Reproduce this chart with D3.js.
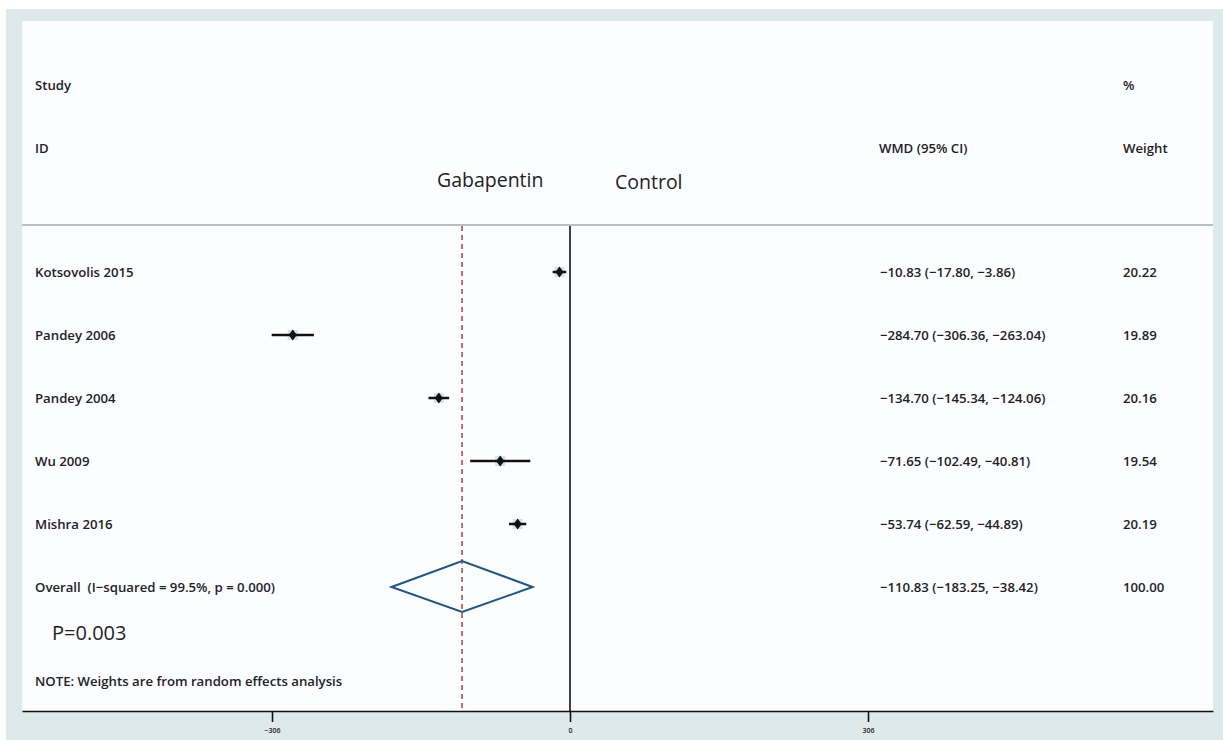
<!DOCTYPE html>
<html><head><meta charset="utf-8">
<script src="https://cdn.jsdelivr.net/npm/d3@7"></script>
<style>
html,body{margin:0;padding:0;background:#fff;}
text{font-family:"Open Sans","Noto Sans",sans-serif;fill:#1e2226;}
</style></head>
<body><svg id="c" width="1223" height="740"></svg>
<script>
const studies = ["Kotsovolis 2015","Pandey 2006","Pandey 2004","Wu 2009","Mishra 2016"];
const estimates = [-10.83,-284.70,-134.70,-71.65,-53.74];
const lowerCI = [-17.80,-306.36,-145.34,-102.49,-62.59];
const upperCI = [-3.86,-263.04,-124.06,-40.81,-44.89];
const weights = ["20.22","19.89","20.16","19.54","20.19"];
const overall = {label:"Overall  (I\u2212squared = 99.5%, p = 0.000)", est:-110.83, lo:-183.25, hi:-38.42, weight:"100.00"};
const tickValues = [-306,0,306];

const FS = "13.2px";
const svg = d3.select("#c");
// background
svg.append("rect").attr("x",6).attr("y",9).attr("width",1217).attr("height",731).attr("fill","#dde9ea");
svg.append("rect").attr("x",22).attr("y",21).attr("width",1191).attr("height",690).attr("fill","#fcfdfe");

const x0 = d3.scaleLinear().domain([-306,306]).range([272,868]);
const x = d3.scaleLinear().domain([x0.invert(22), x0.invert(1213)]).range([22,1213]);

const rows = studies.map((s,i)=>i);
const y = d3.scalePoint().domain(d3.range(6)).range([272,587]);

const fmt = v => d3.format(".2f")(v).replace("-","\u2212");

// header
const hdr = svg.append("g").style("font-weight",600).style("font-size",FS);
hdr.append("text").attr("x",35).attr("y",90).text("Study");
hdr.append("text").attr("x",35).attr("y",153).text("ID");
hdr.append("text").attr("x",1123).attr("y",90).text("%");
hdr.append("text").attr("x",879).attr("y",153).text("WMD (95% CI)");
hdr.append("text").attr("x",1123).attr("y",153).text("Weight");
svg.append("text").attr("x",437).attr("y",187).style("font-size","19.5px").style("font-weight",500).text("Gabapentin");
svg.append("text").attr("x",615).attr("y",189).style("font-size","19.5px").style("font-weight",500).text("Control");

// header separator
svg.append("line").attr("x1",22).attr("x2",1213).attr("y1",225).attr("y2",225).attr("stroke","#a3abae").attr("stroke-width",1.5);

// null line and overall line
svg.append("line").attr("x1",x(0)).attr("x2",x(0)).attr("y1",226).attr("y2",711).attr("stroke","#111").attr("stroke-width",1.6);
svg.append("line").attr("x1",x(overall.est)).attr("x2",x(overall.est)).attr("y1",226).attr("y2",711)
  .attr("stroke","#a5524f").attr("stroke-width",1.6).attr("stroke-dasharray","5,4");

// study rows
const g = svg.append("g");
rows.forEach(i=>{
  const yy = y(i);
  g.append("text").attr("x",35).attr("y",yy+5).style("font-weight",600).style("font-size",FS).text(studies[i]);
  g.append("text").attr("x",880).attr("y",yy+5).style("font-weight",600).style("font-size",FS)
    .text(`${fmt(estimates[i])} (${fmt(lowerCI[i])}, ${fmt(upperCI[i])})`);
  g.append("text").attr("x",1123).attr("y",yy+5).style("font-weight",600).style("font-size",FS).text(weights[i]);
  g.append("rect").attr("x",x(estimates[i])-5).attr("y",yy-5).attr("width",10).attr("height",10).attr("fill","#d3e3e6");
  g.append("line").attr("x1",x(lowerCI[i])).attr("x2",x(upperCI[i])).attr("y1",yy).attr("y2",yy)
    .attr("stroke","#111").attr("stroke-width",2.5);
  g.append("path").attr("d",d3.symbol(d3.symbolDiamond,34)()).attr("transform",`translate(${x(estimates[i])},${yy}) scale(1.3,1)`).attr("fill","#111");
});

// overall row
const yo = y(5);
g.append("text").attr("x",35).attr("y",yo+5).style("font-weight",600).style("font-size",FS).style("white-space","pre").text(overall.label);
g.append("text").attr("x",880).attr("y",yo+5).style("font-weight",600).style("font-size",FS)
  .text(`${fmt(overall.est)} (${fmt(overall.lo)}, ${fmt(overall.hi)})`);
g.append("text").attr("x",1123).attr("y",yo+5).style("font-weight",600).style("font-size",FS).text(overall.weight);
const dpts = [[x(overall.lo),yo],[x(overall.est),yo-26],[x(overall.hi),yo],[x(overall.est),yo+25]];
g.append("path").attr("d",d3.line()(dpts)+"Z").attr("fill","none").attr("stroke","#1f5580").attr("stroke-width",2);

svg.append("text").attr("x",52).attr("y",640).style("font-size","20px").text("P=0.003");
svg.append("text").attr("x",35).attr("y",686).style("font-weight",600).style("font-size",FS).text("NOTE: Weights are from random effects analysis");

// axis
const ax = svg.append("g").attr("transform","translate(0,711)")
  .call(d3.axisBottom(x).tickValues(tickValues).tickSize(11).tickSizeOuter(0).tickFormat(d=>String(d).replace("-","\u2212")));
ax.select(".domain").attr("stroke","#111").attr("stroke-width",1.6);
ax.selectAll(".tick line").attr("stroke","#111").attr("stroke-width",1.6);
ax.selectAll(".tick text").attr("y",17).style("font-size","7px").style("font-weight",600).style("font-family","Open Sans, sans-serif").attr("fill","#333");
</script></body></html>
